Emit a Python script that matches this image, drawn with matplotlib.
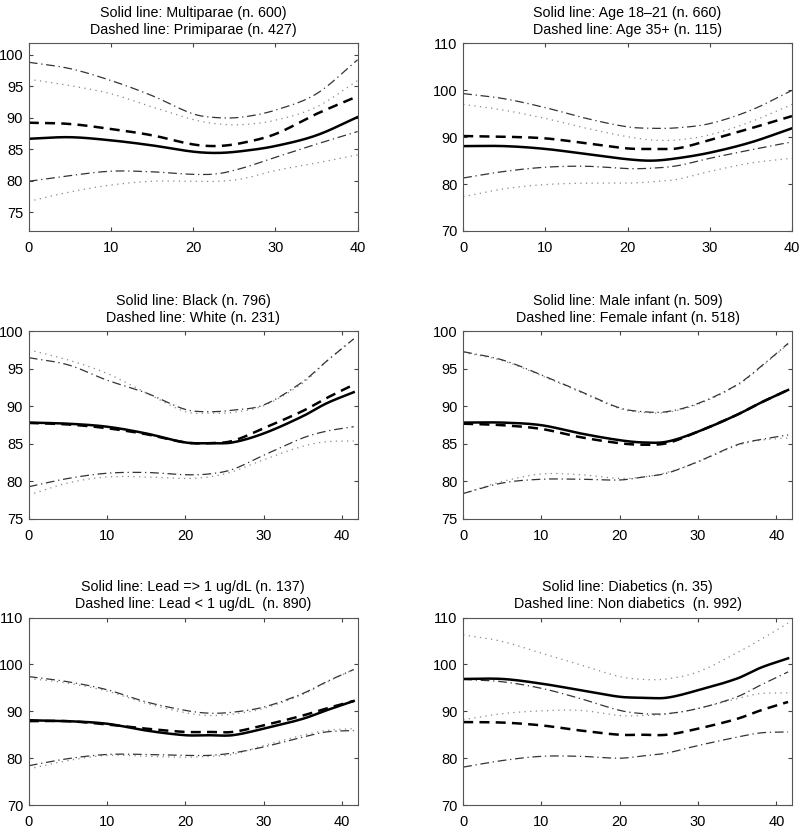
import matplotlib
matplotlib.use("Agg")
import matplotlib.pyplot as plt
import numpy as np

plt.rcParams['font.family'] = ['Liberation Sans', 'DejaVu Sans']

titles = [
    "Solid line: Multiparae (n. 600)\nDashed line: Primiparae (n. 427)",
    "Solid line: Age 18\u201321 (n. 660)\nDashed line: Age 35+ (n. 115)",
    "Solid line: Black (n. 796)\nDashed line: White (n. 231)",
    "Solid line: Male infant (n. 509)\nDashed line: Female infant (n. 518)",
    "Solid line: Lead => 1 ug/dL (n. 137)\nDashed line: Lead < 1 ug/dL  (n. 890)",
    "Solid line: Diabetics (n. 35)\nDashed line: Non diabetics  (n. 992)",
]

# x positions (weeks)
x_a = [0, 5, 10, 15, 20, 23, 26, 30, 35, 40]
x_b = [0, 5, 10, 15, 20, 23, 26, 30, 35, 38, 41.5]

# Panel 1
p1_solid  = [86.65, 86.9, 86.4, 85.6, 84.6, 84.4, 84.7, 85.5, 87.2, 90.1]
p1_dashed = [89.2, 89.0, 88.2, 87.2, 85.75, 85.5, 86.0, 87.4, 90.6, 93.4]
p1_dd_up  = [98.8, 97.8, 95.9, 93.5, 90.6, 90.0, 90.1, 91.2, 93.8, 99.2]
p1_dt_up  = [96.1, 95.1, 93.8, 91.7, 89.7, 89.0, 88.9, 89.6, 91.7, 95.9]
p1_dd_lo  = [79.9, 80.8, 81.5, 81.4, 81.0, 81.1, 82.0, 83.7, 85.8, 87.8]
p1_dt_lo  = [76.7, 78.2, 79.3, 79.9, 79.9, 79.9, 80.3, 81.6, 82.8, 84.1]

# Panel 2
p2_solid  = [88.1, 88.1, 87.5, 86.4, 85.3, 85.0, 85.5, 86.7, 88.9, 91.9]
p2_dashed = [90.25, 90.1, 89.75, 88.7, 87.6, 87.5, 87.6, 89.4, 91.9, 94.5]
p2_dd_up  = [99.3, 98.2, 96.3, 94.0, 92.2, 91.9, 92.0, 92.9, 95.75, 100.0]
p2_dt_up  = [97.0, 95.75, 94.0, 91.9, 90.1, 89.4, 89.4, 90.5, 93.3, 97.0]
p2_dd_lo  = [81.3, 82.7, 83.6, 83.8, 83.3, 83.4, 83.9, 85.5, 87.3, 89.0]
p2_dt_lo  = [77.3, 79.0, 79.9, 80.2, 80.2, 80.5, 81.0, 82.7, 84.5, 85.5]

# Panel 3
p3_solid  = [87.85, 87.7, 87.3, 86.4, 85.2, 85.1, 85.2, 86.4, 88.7, 90.4, 91.9]
p3_dashed = [87.8, 87.6, 87.1, 86.3, 85.2, 85.1, 85.4, 87.1, 89.4, 91.1, 92.9]
p3_dd_up  = [96.5, 95.55, 93.5, 91.8, 89.6, 89.3, 89.5, 90.2, 93.3, 96.0, 99.0]
p3_dt_up  = [97.55, 96.2, 94.4, 91.8, 89.3, 89.1, 89.2, 90.1, 93.1, 96.0, 99.0]
p3_dd_lo  = [79.3, 80.4, 81.1, 81.2, 80.9, 81.0, 81.6, 83.5, 85.8, 86.7, 87.3]
p3_dt_lo  = [78.2, 79.8, 80.6, 80.6, 80.4, 80.6, 81.3, 82.9, 84.7, 85.3, 85.4]

# Panel 4
p4_solid  = [87.85, 87.85, 87.5, 86.4, 85.5, 85.2, 85.3, 86.65, 88.9, 90.5, 92.2]
p4_dashed = [87.7, 87.5, 87.0, 85.9, 85.1, 84.9, 85.1, 86.65, 88.9, 90.5, 92.2]
p4_dd_up  = [97.3, 96.2, 94.2, 92.0, 89.8, 89.3, 89.3, 90.4, 92.9, 95.3, 98.4]
p4_dt_up  = [97.2, 96.1, 94.1, 91.9, 89.7, 89.2, 89.2, 90.3, 92.8, 95.2, 98.3]
p4_dd_lo  = [78.4, 79.8, 80.3, 80.3, 80.2, 80.6, 81.1, 82.65, 84.9, 85.6, 86.2]
p4_dt_lo  = [78.4, 80.0, 81.0, 80.9, 80.4, 80.6, 81.2, 82.6, 84.8, 85.5, 85.8]

# Panel 5
p5_solid  = [88.1, 87.9, 87.35, 85.9, 84.9, 84.9, 84.9, 86.3, 88.4, 90.2, 92.2]
p5_dashed = [87.9, 87.9, 87.2, 86.3, 85.6, 85.6, 85.6, 87.0, 89.1, 90.6, 92.2]
p5_dd_up  = [97.4, 96.3, 94.6, 92.0, 90.2, 89.6, 89.8, 90.9, 93.8, 96.3, 98.9]
p5_dt_up  = [97.0, 96.0, 94.3, 91.7, 89.7, 89.1, 89.4, 90.6, 93.6, 96.2, 98.9]
p5_dd_lo  = [78.4, 79.9, 80.8, 80.8, 80.6, 80.6, 81.1, 82.4, 84.5, 85.6, 85.9]
p5_dt_lo  = [77.7, 79.5, 80.6, 80.4, 80.2, 80.4, 80.8, 82.7, 84.9, 85.9, 86.3]

# Panel 6
p6_solid  = [96.9, 96.9, 95.9, 94.5, 93.1, 92.9, 92.9, 94.5, 97.0, 99.3, 101.3]
p6_dashed = [87.7, 87.6, 87.0, 85.9, 85.0, 85.0, 85.0, 86.3, 88.4, 90.2, 92.0]
p6_dd_up  = [96.8, 96.3, 94.9, 92.7, 90.2, 89.5, 89.5, 90.6, 93.1, 95.6, 98.4]
p6_dt_up  = [106.3, 104.9, 102.4, 99.9, 97.4, 96.8, 96.9, 98.4, 102.5, 105.3, 108.8]
p6_dd_lo  = [78.1, 79.5, 80.4, 80.4, 80.0, 80.5, 81.1, 82.7, 84.5, 85.4, 85.6]
p6_dt_lo  = [88.2, 89.5, 90.1, 90.2, 89.1, 89.1, 89.4, 90.6, 92.7, 93.8, 93.9]

panels = [
    (x_a, p1_solid, p1_dashed, p1_dd_up, p1_dd_lo, p1_dt_up, p1_dt_lo),
    (x_a, p2_solid, p2_dashed, p2_dd_up, p2_dd_lo, p2_dt_up, p2_dt_lo),
    (x_b, p3_solid, p3_dashed, p3_dd_up, p3_dd_lo, p3_dt_up, p3_dt_lo),
    (x_b, p4_solid, p4_dashed, p4_dd_up, p4_dd_lo, p4_dt_up, p4_dt_lo),
    (x_b, p5_solid, p5_dashed, p5_dd_up, p5_dd_lo, p5_dt_up, p5_dt_lo),
    (x_b, p6_solid, p6_dashed, p6_dd_up, p6_dd_lo, p6_dt_up, p6_dt_lo),
]

xlims = [(0, 40), (0, 40), (0, 42), (0, 42), (0, 42), (0, 42)]
ylims = [(72, 101.8), (70, 110), (75, 100), (75, 100), (70, 110), (70, 110)]
yticks = [[75, 80, 85, 90, 95, 100], [70, 80, 90, 100, 110],
          [75, 80, 85, 90, 95, 100], [75, 80, 85, 90, 95, 100],
          [70, 80, 90, 100, 110], [70, 80, 90, 100, 110]]

fig = plt.figure(figsize=(8, 8.3), dpi=100)
lefts = [0.036, 0.579]
bottoms = [0.7217, 0.3747, 0.0300]
w, h = 0.411, 0.2260


def smooth(x, y):
    x = np.asarray(x, float); y = np.asarray(y, float)
    xs = np.linspace(x[0], x[-1], 200)
    n = len(x)
    m = np.zeros(n)
    m[0] = (y[1] - y[0]) / (x[1] - x[0])
    m[-1] = (y[-1] - y[-2]) / (x[-1] - x[-2])
    for i in range(1, n - 1):
        m[i] = (y[i + 1] - y[i - 1]) / (x[i + 1] - x[i - 1])
    idx = np.clip(np.searchsorted(x, xs) - 1, 0, n - 2)
    hh = x[idx + 1] - x[idx]
    t = (xs - x[idx]) / hh
    h00 = 2 * t**3 - 3 * t**2 + 1
    h10 = t**3 - 2 * t**2 + t
    h01 = -2 * t**3 + 3 * t**2
    h11 = t**3 - t**2
    ys = h00 * y[idx] + h10 * hh * m[idx] + h01 * y[idx + 1] + h11 * hh * m[idx + 1]
    return xs, ys


for k, (xv, s, d, ddu, ddl, dtu, dtl) in enumerate(panels):
    r, c = divmod(k, 2)
    ax = fig.add_axes([lefts[c], bottoms[r], w, h])
    for yy in (dtu, dtl):
        ax.plot(*smooth(xv, yy), color='#888888', lw=0.9, linestyle=(0, (1, 3.5)))
    for yy in (ddu, ddl):
        ax.plot(*smooth(xv, yy), color='#333333', lw=0.9, linestyle=(0, (7, 3, 1, 3)))
    ax.plot(*smooth(xv, d), color='black', lw=1.8, linestyle=(0, (4, 2.5)))
    ax.plot(*smooth(xv, s), color='black', lw=1.8, linestyle='-')
    ax.set_xlim(*xlims[k])
    ax.set_ylim(*ylims[k])
    ax.set_xticks([0, 10, 20, 30, 40])
    ax.set_yticks(yticks[k])
    ax.tick_params(direction='in', length=3, width=0.8, top=True, right=True,
                   labelsize=10.5, colors='#444444', labelcolor='black')
    ax.tick_params(axis='y', pad=4)
    ax.tick_params(axis='x', pad=7)
    for sp in ax.spines.values():
        sp.set_color('#555555')
        sp.set_linewidth(0.8)
    ax.set_title(titles[k], fontsize=10.3, linespacing=1.22, pad=7)

fig.savefig("out.png", dpi=100)
